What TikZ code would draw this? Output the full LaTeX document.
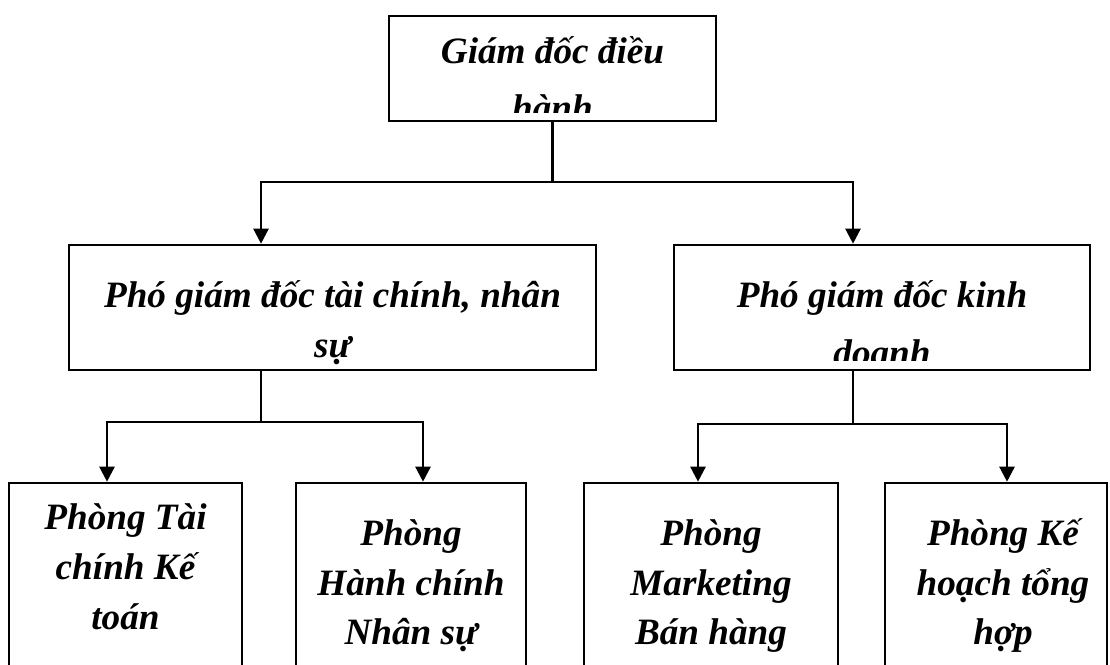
\documentclass[tikz,border=0pt]{standalone}
\usepackage{fontspec}
\setmainfont{Liberation Serif}
\usetikzlibrary{arrows.meta}
\begin{document}
\begin{tikzpicture}[x=1pt,y=-1pt,
  box/.style={draw=black,line width=2.6pt,fill=none,inner sep=0pt},
  txt/.style={anchor=base,inner sep=0pt,font=\fontsize{37.2}{44}\selectfont\bfseries\itshape},
  conn/.style={line width=2.4pt},
  arr/.style={line width=2.4pt,-{Triangle[length=15pt,width=15pt]}}]
\clip (0,0) rectangle (1110,664);
\fill[white] (0,0) rectangle (1110,664);
% boxes
\node[box,minimum width=327pt,minimum height=105pt] (top) at (552.5,68.5) {};
\node[box,minimum width=527pt,minimum height=125pt] (pL) at (332.5,307.5) {};
\node[box,minimum width=416pt,minimum height=125pt] (pR) at (882,307.5) {};
\node[box,minimum width=233pt,minimum height=237pt] (b1) at (125.5,601.5) {};
\node[box,minimum width=230pt,minimum height=237pt] (b2) at (411,601.5) {};
\node[box,minimum width=254pt,minimum height=237pt] (b3) at (711,601.5) {};
\node[box,minimum width=222pt,minimum height=237pt] (b4) at (996,601.5) {};
% texts
\node[txt] (t1) at (552.5,63) {Giám đốc điều};
\begin{scope}
  \clip (395,20) rectangle (710,112);
  \node[txt] (t2) at (552.5,120) {hành};
\end{scope}
\node[txt] (l1) at (332.5,307) {Phó giám đốc tài chính, nhân};
\node[txt] (l2) at (332.5,357) {sự};
\node[txt] (r1) at (882,307) {Phó giám đốc kinh};
\begin{scope}
  \clip (680,250) rectangle (1085,360);
  \node[txt] (r2) at (882,365) {doanh};
\end{scope}
\node[txt] (a1) at (125.5,529) {Phòng Tài};
\node[txt] (a2) at (125.5,579) {chính Kế};
\node[txt] (a3) at (125.5,629) {toán};
\node[txt] (c1) at (411,545) {Phòng};
\node[txt] (c2) at (411,595) {Hành chính};
\node[txt] (c3) at (411,644) {Nhân sự};
\node[txt] (d1) at (711,545) {Phòng};
\node[txt] (d2) at (711,595) {Marketing};
\node[txt] (d3) at (711,644) {Bán hàng};
\node[txt] (e1) at (1003,545) {Phòng Kế};
\node[txt] (e2) at (1003,595) {hoạch tổng};
\node[txt] (e3) at (1003,644) {hợp};
% connector coordinates
\coordinate (j0) at (552.5,182);
\coordinate (xL) at (261,0);
\coordinate (xR) at (853,0);
\coordinate (j1) at (261,422);
\coordinate (j2) at (853,424);
\coordinate (x1) at (107,0);
\coordinate (x2) at (423,0);
\coordinate (x3) at (698,0);
\coordinate (x4) at (1007,0);
% connectors
\draw[conn] (top.south) -- (j0);
\draw[arr] (j0) -| (pL.north -| xL);
\draw[arr] (j0) -| (pR.north -| xR);
\draw[conn] (pL.south -| xL) -- (j1);
\draw[arr] (j1) -| (b1.north -| x1);
\draw[arr] (j1) -| (b2.north -| x2);
\draw[conn] (pR.south -| xR) -- (j2);
\draw[arr] (j2) -| (b3.north -| x3);
\draw[arr] (j2) -| (b4.north -| x4);
\end{tikzpicture}
\end{document}
